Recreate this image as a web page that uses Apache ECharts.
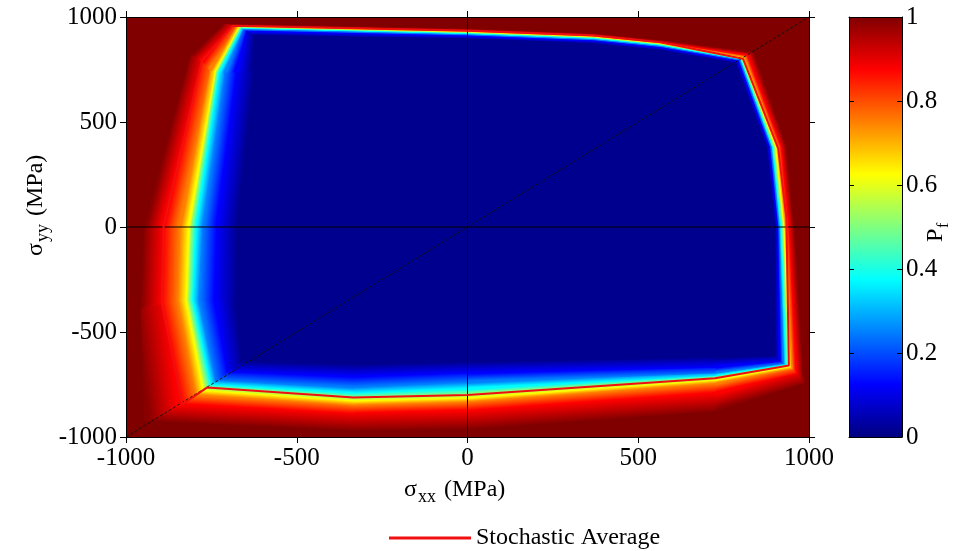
<!DOCTYPE html>
<html>
<head>
<meta charset="utf-8">
<script src="https://cdn.jsdelivr.net/npm/echarts@6/dist/echarts.min.js"></script>
<style>
  html, body { margin: 0; padding: 0; background: #fff; }
  #chart { width: 979px; height: 551px; }
</style>
</head>
<body>
<div id="chart"></div>
<script>
// ---- data ----
const xTicks = [-1000, -500, 0, 500, 1000];
const yTicks = [-1000, -500, 0, 500, 1000];
const pfTicks = [0, 0.2, 0.4, 0.6, 0.8, 1];

// P_f iso-levels; each contour below has the same 15 stations, clockwise from the top-left corner
const pfLevels = [0.02, 0.125, 0.25, 0.375, 0.5, 0.625, 0.75, 0.875, 0.99];

const pf002 = [[-628, 912], [0, 896], [368, 873], [564, 841], [785, 780], [875, 380], [900, 0], [900, -615],
  [725, -620], [0, -643], [-334, -655], [-665, -640], [-677, -348], [-675, 0], [-627, 738]];
const pf0125 = [[-648, 932], [0, 909], [368, 886], [564, 854], [793, 790], [884, 380], [908, 0], [915, -640],
  [725, -668], [0, -695], [-334, -712], [-705, -690], [-740, -348], [-735, 0], [-678, 738]];
const pf025 = [[-656, 940], [0, 915], [368, 892], [564, 860], [797, 795], [889, 380], [912, 0], [925, -650],
  [725, -695], [0, -738], [-334, -765], [-738, -730], [-786, -348], [-775, 0], [-710, 738]];
const pf0375 = [[-661, 945], [0, 920], [368, 897], [564, 865], [800, 798], [893, 380], [917, 0], [932, -655],
  [725, -707], [0, -771], [-334, -790], [-752, -750], [-804, -348], [-795, 0], [-727, 738]];
const pf05 = [[-665, 949], [0, 924], [368, 901], [564, 869], [802, 800], [897, 380], [922, 0], [938, -660],
  [725, -716], [0, -795], [-334, -810], [-763, -763], [-815, -348], [-807, 0], [-734, 738]];
const pf0625 = [[-669, 952], [0, 927], [368, 904], [564, 872], [806, 805], [902, 380], [926, 0], [943, -665],
  [725, -729], [0, -814], [-334, -828], [-775, -778], [-824, -348], [-816, 0], [-739, 738]];
const pf075 = [[-676, 955], [0, 931], [368, 908], [564, 876], [812, 810], [910, 380], [932, 0], [950, -675],
  [725, -744], [0, -833], [-334, -848], [-795, -800], [-848, -355], [-842, 0], [-752, 745]];
const pf0875 = [[-688, 958], [0, 935], [368, 912], [564, 880], [820, 818], [918, 380], [941, 0], [962, -695],
  [725, -790], [0, -871], [-334, -885], [-835, -845], [-895, -365], [-890, 0], [-778, 790]];
const pf099 = [[-710, 966], [0, 944], [368, 921], [564, 889], [838, 832], [932, 380], [955, 0], [985, -740],
  [725, -875], [0, -960], [-334, -965], [-945, -920], [-955, -385], [-945, 0], [-808, 820]];
const pfContours = [pf002, pf0125, pf025, pf0375, pf05, pf0625, pf075, pf0875, pf099];

const stochasticAverage = [[-688, 958], [0, 935], [368, 912], [564, 880], [807, 801], [910, 373], [934, 40],
  [941, -660], [725, -720], [0, -800], [-334, -812], [-762, -764], [-835, -845], [-895, -365], [-890, 0],
  [-778, 790], [-688, 958]];

const zeroX = [[0, -1000], [0, 1000]];
const zeroY = [[-1000, 0], [1000, 0]];
const diagonal = [[-1000, -1000], [1000, 1000]];

// ---- styling ----
const FONT = 'Liberation Serif';
const jetStops = [
  { offset: 0, color: '#000080' }, { offset: 0.125, color: '#0000ff' },
  { offset: 0.375, color: '#00ffff' }, { offset: 0.625, color: '#ffff00' },
  { offset: 0.875, color: '#ff0000' }, { offset: 1, color: '#800000' }
];

function jet(p) {
  const c = v => Math.round(255 * Math.max(0, Math.min(1, v)));
  return 'rgb(' + c(1.5 - Math.abs(4 * p - 3)) + ',' + c(1.5 - Math.abs(4 * p - 2)) + ',' +
    c(1.5 - Math.abs(4 * p - 1)) + ')';
}

function renderField(params, api) {
  const box = params.coordSys;
  const children = [{
    type: 'rect',
    shape: { x: box.x, y: box.y, width: box.width, height: box.height },
    style: { fill: '#800000' }
  }];
  const rings = pfContours.map(poly => poly.map(p => api.coord(p)));
  for (let k = rings.length - 1; k >= 1; k--) {
    const inner = rings[k - 1], outer = rings[k];
    const stops = [{ offset: 0, color: jet(pfLevels[k - 1]) }, { offset: 1, color: jet(pfLevels[k]) }];
    for (let j = 0; j < inner.length; j++) {
      const j2 = (j + 1) % inner.length;
      const a = inner[j], b = inner[j2], c = outer[j2], d = outer[j];
      const mi = [(a[0] + b[0]) / 2, (a[1] + b[1]) / 2];
      const mo = [(c[0] + d[0]) / 2, (c[1] + d[1]) / 2];
      let ex = (b[0] - a[0]) + (c[0] - d[0]), ey = (b[1] - a[1]) + (c[1] - d[1]);
      const len = Math.hypot(ex, ey) || 1;
      ex /= len; ey /= len;
      const nx = -ey, ny = ex;
      const dist = (mo[0] - mi[0]) * nx + (mo[1] - mi[1]) * ny;
      const grad = new echarts.graphic.LinearGradient(mi[0], mi[1], mi[0] + nx * dist, mi[1] + ny * dist, stops, true);
      children.push({
        type: 'polygon',
        shape: { points: [a, b, c, d] },
        style: { fill: grad, stroke: grad, lineWidth: 1 }
      });
    }
  }
  children.push({ type: 'polygon', shape: { points: rings[0] }, style: { fill: '#00008f', stroke: '#00008f', lineWidth: 1 } });
  return { type: 'group', children: children };
}

function renderColorbar(params, api) {
  const p0 = api.coord([0, 0]), p1 = api.coord([1, 1]);
  return {
    type: 'rect',
    shape: { x: p0[0], y: p1[1], width: p1[0] - p0[0], height: p0[1] - p1[1] },
    style: { fill: new echarts.graphic.LinearGradient(0, 1, 0, 0, jetStops) }
  };
}

const tickFont = { color: '#000', fontFamily: FONT, fontSize: 25 };
const plainNumber = v => String(v);

function frameAxis(extra) {
  return Object.assign({
    type: 'value', z: 10,
    axisLine: { show: true, onZero: false, lineStyle: { color: '#000', width: 1 } },
    axisTick: { show: true, inside: false, length: 6, lineStyle: { color: '#000' } },
    axisLabel: { show: false },
    splitLine: { show: false }
  }, extra);
}

// sigma with a two-letter subscript, then the unit; laid out along the text direction
function stressTitle(sub) {
  return [
    { type: 'text', x: 0, y: 0, style: { text: 'σ', font: '24px ' + FONT, fill: '#000' } },
    { type: 'text', x: 14, y: 10, style: { text: sub, font: '18px ' + FONT, fill: '#000' } },
    { type: 'text', x: 40, y: 0, style: { text: '(MPa)', font: '24px ' + FONT, fill: '#000' } }
  ];
}

const chart = echarts.init(document.getElementById('chart'), null, { renderer: 'canvas' });

chart.setOption({
  backgroundColor: '#fff',
  animation: false,
  grid: [
    { left: 126, top: 17, width: 683, height: 420 },
    { left: 849, top: 17, width: 53, height: 420 }
  ],
  xAxis: [
    frameAxis({ gridIndex: 0, position: 'bottom', min: -1000, max: 1000, interval: 500,
      axisLabel: Object.assign({ show: true, margin: 9, customValues: xTicks, formatter: plainNumber }, tickFont) }),
    frameAxis({ gridIndex: 0, position: 'top', min: -1000, max: 1000, interval: 500 }),
    frameAxis({ gridIndex: 1, position: 'bottom', min: 0, max: 1, axisTick: { show: false } }),
    frameAxis({ gridIndex: 1, position: 'top', min: 0, max: 1, axisTick: { show: false } })
  ],
  yAxis: [
    frameAxis({ gridIndex: 0, position: 'left', min: -1000, max: 1000, interval: 500,
      axisLabel: Object.assign({ show: true, margin: 9, customValues: yTicks, formatter: plainNumber }, tickFont) }),
    frameAxis({ gridIndex: 0, position: 'right', min: -1000, max: 1000, interval: 500 }),
    frameAxis({ gridIndex: 1, position: 'left', min: 0, max: 1, interval: 0.2,
      axisTick: { show: true, inside: true, length: 5, lineStyle: { color: '#000' } } }),
    frameAxis({ gridIndex: 1, position: 'right', min: 0, max: 1, interval: 0.2,
      axisTick: { show: true, inside: true, length: 5, lineStyle: { color: '#000' } },
      axisLabel: Object.assign({ show: true, margin: 4, customValues: pfTicks, formatter: plainNumber }, tickFont) })
  ],
  legend: {
    data: ['Stochastic Average'],
    left: 384, top: 521,
    icon: 'rect', itemWidth: 82, itemHeight: 3,
    textStyle: { color: '#000', fontFamily: FONT, fontSize: 24 }
  },
  series: [
    {
      type: 'custom', name: 'field', xAxisIndex: 0, yAxisIndex: 0, z: 1,
      clip: true, silent: true, renderItem: renderField, data: [[0, 0]]
    },
    {
      type: 'custom', name: 'colorbar', xAxisIndex: 2, yAxisIndex: 2, z: 1,
      silent: true, renderItem: renderColorbar, data: [[0, 0]]
    },
    {
      type: 'line', name: 'zeroX', data: zeroX, symbol: 'none', silent: true, z: 3,
      lineStyle: { color: '#000', width: 1 }
    },
    {
      type: 'line', name: 'zeroY', data: zeroY, symbol: 'none', silent: true, z: 3,
      lineStyle: { color: '#000', width: 1 }
    },
    {
      type: 'line', name: 'diagonal', data: diagonal, symbol: 'none', silent: true, z: 3,
      lineStyle: { color: '#111', width: 1, type: [3, 2] }
    },
    {
      type: 'line', name: 'Stochastic Average', data: stochasticAverage, symbol: 'none', silent: true, z: 4,
      itemStyle: { color: '#f01010' },
      lineStyle: { color: '#f01010', width: 2 }
    }
  ],
  graphic: [
    { type: 'group', left: 404, top: 478, children: stressTitle('xx') },
    { type: 'group', x: 24, y: 256, rotation: Math.PI / 2, children: stressTitle('yy') },
    { // colorbar title, rotated
      type: 'group', x: 924, y: 242, rotation: Math.PI / 2,
      children: [
        { type: 'text', x: 0, y: 0, style: { text: 'P', font: '24px ' + FONT, fill: '#000' } },
        { type: 'text', x: 14, y: 12, style: { text: 'f', font: '16px ' + FONT, fill: '#000' } }
      ]
    }
  ]
});
</script>
</body>
</html>
